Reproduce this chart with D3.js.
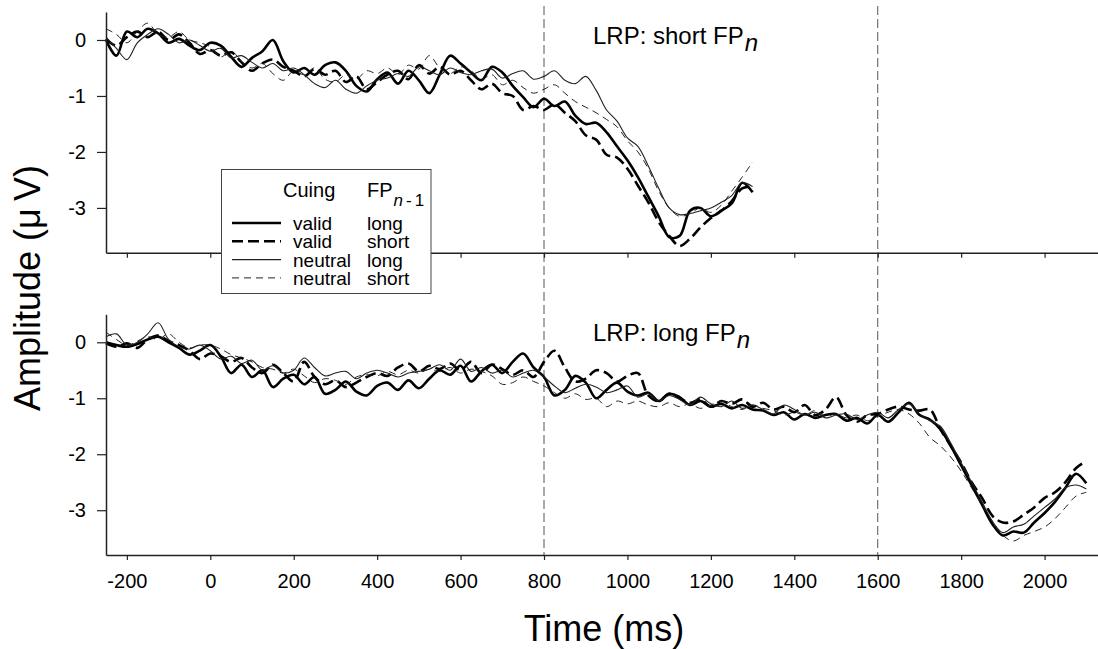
<!DOCTYPE html>
<html>
<head>
<meta charset="utf-8">
<script src="https://cdn.jsdelivr.net/npm/d3@7"></script>
<style>
  body { margin: 0; background: #fff; }
  svg text { font-family: Arial, "Liberation Sans", sans-serif; fill: #000; }
</style>
</head>
<body>
<div id="chart"></div>
<script>
// sample times (ms) for the two panels
const timesShort = d3.range(-250, 1301, 25);
const timesLong = d3.range(-250, 2101, 25);

// LRP, short FP_n (top panel)
const shortValidLong = [
  0.00, -0.28, 0.15, 0.05, 0.20, 0.12, -0.05, 0.02, -0.10, -0.18,
  -0.05, -0.10, -0.30, -0.48, -0.32, -0.20, 0.00, -0.38, -0.58, -0.50,
  -0.62, -0.45, -0.40, -0.55, -0.82, -0.92, -0.70, -0.58, -0.78, -0.55,
  -0.72, -0.95, -0.62, -0.28, -0.42, -0.58, -0.72, -0.48, -0.58, -0.82,
  -1.02, -1.20, -1.05, -1.18, -1.10, -1.35, -1.50, -1.48, -1.65, -1.90,
  -2.15, -2.45, -2.80, -3.15, -3.52, -3.50, -3.05, -3.00, -3.15, -3.05,
  -2.92, -2.55, -2.72];
const shortValidShort = [
  0.02, -0.10, 0.05, 0.15, 0.05, 0.15, 0.00, 0.10, -0.05, -0.25,
  -0.18, -0.28, -0.22, -0.40, -0.55, -0.42, -0.35, -0.48, -0.55, -0.65,
  -0.52, -0.62, -0.55, -0.75, -0.65, -0.88, -0.75, -0.62, -0.55, -0.70,
  -0.45, -0.60, -0.48, -0.62, -0.55, -0.72, -0.88, -0.78, -0.95, -1.00,
  -1.25, -1.18, -1.25, -1.15, -1.30, -1.45, -1.70, -1.78, -2.05, -2.10,
  -2.30, -2.60, -2.90, -3.25, -3.50, -3.68, -3.55, -3.35, -3.18, -3.05,
  -2.88, -2.65, -2.62];
const shortNeutralLong = [
  0.05, -0.15, -0.35, -0.05, 0.10, 0.20, 0.10, -0.05, 0.00, -0.10,
  -0.20, -0.15, -0.32, -0.28, -0.40, -0.50, -0.42, -0.55, -0.50, -0.62,
  -0.78, -0.85, -0.72, -0.88, -0.95, -0.82, -0.72, -0.68, -0.60, -0.65,
  -0.48, -0.55, -0.62, -0.50, -0.58, -0.62, -0.55, -0.52, -0.68, -0.60,
  -0.55, -0.70, -0.65, -0.55, -0.72, -0.78, -0.65, -0.90, -1.25, -1.45,
  -1.75, -1.90, -2.25, -2.65, -3.00, -3.12, -3.10, -3.05, -3.00, -2.90,
  -2.78, -2.55, -2.62];
const shortNeutralShort = [
  0.20, 0.10, -0.05, 0.15, 0.30, 0.10, 0.05, 0.15, 0.00, -0.05,
  -0.12, -0.30, -0.20, -0.38, -0.50, -0.42, -0.60, -0.72, -0.55, -0.62,
  -0.50, -0.70, -0.75, -0.62, -0.70, -0.55, -0.60, -0.50, -0.62, -0.45,
  -0.52, -0.28, -0.50, -0.60, -0.48, -0.55, -0.70, -0.62, -0.80, -0.72,
  -0.85, -0.95, -0.88, -0.80, -0.95, -1.10, -1.20, -1.30, -1.42, -1.55,
  -1.80, -2.00, -2.30, -2.70, -3.00, -3.15, -3.10, -3.00, -3.08, -2.95,
  -2.70, -2.45, -2.18];

// LRP, long FP_n (bottom panel)
const longValidLong = [
  0.00, -0.05, -0.08, -0.03, 0.05, 0.10, 0.00, -0.10, -0.22, -0.15,
  -0.05, -0.25, -0.55, -0.40, -0.62, -0.50, -0.80, -0.65, -0.58, -0.75,
  -0.62, -0.92, -0.85, -0.70, -0.88, -0.95, -0.78, -0.72, -0.85, -0.68,
  -0.82, -0.65, -0.50, -0.58, -0.42, -0.70, -0.52, -0.40, -0.55, -0.35,
  -0.20, -0.45, -0.62, -0.95, -0.85, -0.60, -0.72, -1.00, -0.85, -0.72,
  -0.88, -0.95, -0.90, -1.05, -0.92, -0.98, -1.12, -1.05, -1.15, -1.10,
  -1.18, -1.12, -1.20, -1.22, -1.30, -1.25, -1.38, -1.28, -1.35, -1.30,
  -1.28, -1.40, -1.35, -1.45, -1.30, -1.42, -1.25, -1.08, -1.30, -1.38,
  -1.55, -1.85, -2.20, -2.55, -2.90, -3.25, -3.45, -3.38, -3.40, -3.22,
  -3.05, -2.85, -2.60, -2.35, -2.52];
const longValidShort = [
  -0.02, -0.08, -0.02, -0.10, 0.05, 0.12, 0.02, -0.05, -0.15, -0.30,
  -0.20, -0.25, -0.35, -0.28, -0.45, -0.55, -0.40, -0.55, -0.70, -0.35,
  -0.62, -0.75, -0.68, -0.80, -0.72, -0.62, -0.55, -0.60, -0.45, -0.38,
  -0.52, -0.42, -0.48, -0.38, -0.50, -0.35, -0.55, -0.40, -0.48, -0.58,
  -0.50, -0.62, -0.35, -0.15, -0.45, -0.70, -0.65, -0.50, -0.55, -0.70,
  -0.60, -0.55, -0.95, -1.05, -0.92, -1.00, -1.08, -1.02, -1.15, -1.05,
  -1.10, -1.02, -1.15, -1.08, -1.20, -1.15, -1.25, -1.12, -1.30, -1.20,
  -0.98, -1.30, -1.42, -1.30, -1.28, -1.20, -1.15, -1.20, -1.22, -1.20,
  -1.55, -1.85, -2.15, -2.50, -2.78, -3.10, -3.22, -3.20, -3.08, -2.95,
  -2.78, -2.68, -2.50, -2.25, -2.12];
const longNeutralLong = [
  0.10, 0.15, -0.05, 0.00, 0.15, 0.35, 0.05, -0.08, -0.12, -0.05,
  -0.15, -0.30, -0.25, -0.38, -0.32, -0.50, -0.42, -0.55, -0.50, -0.28,
  -0.45, -0.60, -0.55, -0.52, -0.65, -0.55, -0.50, -0.55, -0.62, -0.55,
  -0.52, -0.48, -0.40, -0.50, -0.30, -0.52, -0.45, -0.55, -0.50, -0.62,
  -0.55, -0.50, -0.62, -0.78, -0.90, -0.82, -0.75, -0.80, -0.90, -0.85,
  -0.78, -0.98, -0.92, -1.05, -0.95, -1.02, -1.12, -0.98, -1.10, -1.15,
  -1.05, -1.18, -1.12, -1.20, -1.28, -1.12, -1.20, -1.30, -1.25, -1.35,
  -1.30, -1.28, -1.38, -1.30, -1.25, -1.35, -1.20, -1.10, -1.28, -1.40,
  -1.50, -1.80, -2.15, -2.50, -2.85, -3.20, -3.40, -3.30, -3.25, -3.10,
  -2.95, -2.80, -2.60, -2.55, -2.62];
const longNeutralShort = [
  0.18, 0.05, -0.05, 0.02, 0.10, 0.05, 0.15, 0.00, -0.10, -0.05,
  -0.05, -0.12, -0.22, -0.28, -0.35, -0.45, -0.48, -0.55, -0.48, -0.60,
  -0.72, -0.65, -0.68, -0.75, -0.62, -0.58, -0.60, -0.52, -0.58, -0.50,
  -0.55, -0.48, -0.52, -0.45, -0.55, -0.48, -0.52, -0.60, -0.75, -0.72,
  -0.62, -0.70, -0.78, -0.90, -1.00, -0.92, -1.02, -1.00, -1.15, -1.05,
  -1.10, -1.05, -1.12, -1.15, -1.08, -1.15, -1.10, -1.18, -1.12, -1.05,
  -1.15, -1.20, -1.12, -1.18, -1.22, -1.30, -1.25, -1.30, -1.22, -1.32,
  -1.28, -1.35, -1.30, -1.40, -1.32, -1.25, -1.20, -1.28, -1.45, -1.70,
  -1.85, -2.05, -2.30, -2.60, -2.90, -3.20, -3.45, -3.55, -3.45, -3.38,
  -3.30, -3.15, -2.95, -2.75, -2.68];

const xTicks = [-200, 0, 200, 400, 600, 800, 1000, 1200, 1400, 1600, 1800, 2000];
const yTicks = [0, -1, -2, -3];
const markers = [800, 1600];

const cuing = ["valid", "valid", "neutral", "neutral"];
const fpPrev = ["long", "short", "long", "short"];

// line styles: valid long, valid short, neutral long, neutral short
const styles = [
  {width: 2.6, dash: null, color: "#000"},
  {width: 2.6, dash: "11,5", color: "#000"},
  {width: 1.1, dash: null, color: "#222"},
  {width: 1.0, dash: "7,5", color: "#222"}
];

const width = 1098, height = 649;
const svg = d3.select("#chart").append("svg")
  .attr("width", width)
  .attr("height", height);

svg.append("rect").attr("width", width).attr("height", height).attr("fill", "#fff");

const x = d3.scaleLinear().domain([-250, 2128]).range([106, 1098]);

// plain hyphen minus, as in the original figure
const fmt = function(d) { return String(d); };

const panels = [
  {title: "LRP: short FP", titleY: 44, top: 12, bottom: 252.7, times: timesShort,
   series: [shortValidLong, shortValidShort, shortNeutralLong, shortNeutralShort], labels: true && false},
  {title: "LRP: long FP", titleY: 340.5, top: 314.3, bottom: 555, times: timesLong,
   series: [longValidLong, longValidShort, longNeutralLong, longNeutralShort], labels: true}
];

// dashed markers run through both panels
svg.append("g").selectAll("line")
  .data(markers)
  .enter().append("line")
  .attr("x1", d => x(d)).attr("x2", d => x(d))
  .attr("y1", 6).attr("y2", 555)
  .attr("stroke", "#555")
  .attr("stroke-width", 1)
  .attr("stroke-dasharray", "9,4");

panels.forEach(function(p) {
  const y = d3.scaleLinear().domain([-3.8, 0.5]).range([p.bottom, p.top]);
  const g = svg.append("g");

  // series
  const line = d3.line()
    .x(function(d) { return x(d.t); })
    .y(function(d) { return y(d.v); })
    .curve(d3.curveCatmullRom.alpha(0.5));

  p.series.forEach(function(vals, i) {
    const pts = vals.map(function(v, j) { return {t: p.times[j], v: v}; });
    g.append("path")
      .datum(pts)
      .attr("fill", "none")
      .attr("stroke", styles[i].color)
      .attr("stroke-width", styles[i].width)
      .attr("stroke-dasharray", styles[i].dash)
      .attr("stroke-linejoin", "round")
      .attr("d", line);
  });

  // x axis
  const xa = g.append("g")
    .attr("transform", "translate(0," + p.bottom + ")")
    .call(d3.axisBottom(x).tickValues(xTicks).tickSize(5).tickSizeOuter(0).tickPadding(14)
      .tickFormat(p.labels ? fmt : ""));
  xa.selectAll("text").style("font-size", "20px");

  // y axis
  const ya = g.append("g")
    .attr("transform", "translate(106,0)")
    .call(d3.axisLeft(y).tickValues(yTicks).tickSize(9).tickSizeOuter(0).tickPadding(11)
      .tickFormat(fmt));
  ya.selectAll("text").style("font-size", "20px");

  [xa, ya].forEach(function(a) {
    a.select(".domain").attr("stroke", "#222").attr("stroke-width", 1.5);
    a.selectAll(".tick line").attr("stroke", "#222").attr("stroke-width", 1.2);
  });

  // panel title with italic subscript n
  const t = svg.append("text")
    .attr("x", 593).attr("y", p.titleY)
    .style("font-size", "24px");
  t.append("tspan").text(p.title);
  t.append("tspan").attr("dy", 7).attr("dx", 1).style("font-style", "italic").text("n");
});

// legend
const lg = svg.append("g");
lg.append("rect")
  .attr("x", 221.5).attr("y", 169.5)
  .attr("width", 209.5).attr("height", 124)
  .attr("fill", "#fff")
  .attr("stroke", "#444")
  .attr("stroke-width", 1);

lg.append("text").attr("x", 283).attr("y", 197).style("font-size", "20px").text("Cuing");
const fpHead = lg.append("text").attr("x", 367).attr("y", 197).style("font-size", "20px");
fpHead.append("tspan").text("FP");
fpHead.append("tspan").attr("dy", 9).attr("dx", 1).style("font-style", "italic").style("font-size", "17px").text("n");
fpHead.append("tspan").attr("dx", 3).style("font-size", "17px").text("-");
fpHead.append("tspan").attr("dx", 3).style("font-size", "17px").text("1");

styles.forEach(function(s, i) {
  const by = 230 + i * 18.3;
  lg.append("line")
    .attr("x1", 232).attr("x2", 281)
    .attr("y1", by - 7).attr("y2", by - 7)
    .attr("stroke", s.color)
    .attr("stroke-width", s.width)
    .attr("stroke-dasharray", s.dash);
  lg.append("text").attr("x", 293).attr("y", by).style("font-size", "19px").text(cuing[i]);
  lg.append("text").attr("x", 367).attr("y", by).style("font-size", "19px").text(fpPrev[i]);
});

// axis titles
svg.append("text")
  .attr("transform", "translate(40,288) rotate(-90)")
  .attr("text-anchor", "middle")
  .style("font-size", "36px")
  .text("Amplitude (\u03bc\u2009V)");

svg.append("text")
  .attr("x", 604).attr("y", 641)
  .attr("text-anchor", "middle")
  .style("font-size", "36px")
  .text("Time (ms)");
</script>
</body>
</html>
